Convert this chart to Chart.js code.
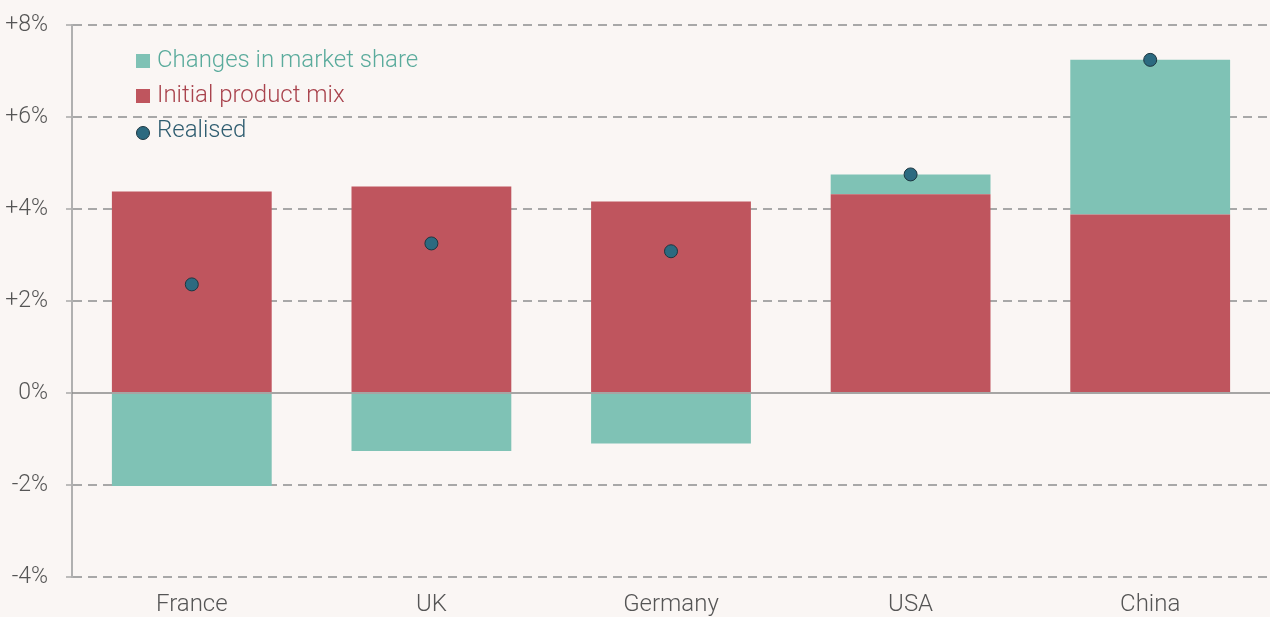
<!DOCTYPE html>
<html><head><meta charset="utf-8">
<script src="https://cdn.jsdelivr.net/npm/chart.js@4"></script>
<style>
html,body{margin:0;padding:0;background:#faf6f4;}
#wrap{position:relative;width:1270px;height:617px;}
.lg{position:absolute;left:136px;font-family:Roboto,sans-serif;font-weight:300;font-size:24px;line-height:28px;white-space:nowrap;}
.lg i{display:inline-block;width:14px;height:14px;margin-right:7px;vertical-align:-1px;}
</style></head>
<body>
<div id="wrap">
<canvas id="c" width="1270" height="617"></canvas>
<div class="lg" style="top:45px;color:#5aab9c"><i style="background:#7fc2b5"></i>Changes in market share</div>
<div class="lg" style="top:80px;color:#a9434d"><i style="background:#bf555e"></i>Initial product mix</div>
<div class="lg" style="top:115px;color:#2f5d70"><i style="background:#2c6a80;border:1px solid #1d3640;border-radius:50%;width:12px;height:12px;vertical-align:-3px"></i>Realised</div>
</div>
<script>
const categories = ["France","UK","Germany","USA","China"];
const productMix = [4.38, 4.49, 4.16, 4.32, 3.88];
const marketShare = [-2.02, -1.26, -1.10, 0.43, 3.36];
const realised = [2.36, 3.25, 3.08, 4.75, 7.24];
const yTicks = [-4,-2,0,2,4,6,8];

const zeroLine = {
  id:'zeroLine',
  afterDatasetsDraw(chart){
    const y = chart.scales.y.getPixelForValue(0);
    const {left,right} = chart.chartArea;
    const ctx = chart.ctx;
    ctx.save();
    ctx.strokeStyle = '#8a8a8a';
    ctx.lineWidth = 1.5;
    ctx.beginPath(); ctx.moveTo(left, y); ctx.lineTo(right, y); ctx.stroke();
    ctx.restore();
  }
};

new Chart(document.getElementById('c'), {
  data: {
    labels: categories,
    datasets: [
      {type:'bar', label:'Initial product mix', data: productMix, backgroundColor:'#bf555e',
       stack:'s', barPercentage:0.667, categoryPercentage:1, order:1},
      {type:'bar', label:'Changes in market share', data: marketShare, backgroundColor:'#7fc2b5',
       stack:'s', barPercentage:0.667, categoryPercentage:1, order:2},
      {type:'line', label:'Realised', data: realised, showLine:false,
       pointRadius:6.5, pointHoverRadius:6.5, pointBackgroundColor:'#2c6a80',
       pointBorderColor:'#1d3640', pointBorderWidth:1, order:0}
    ]
  },
  options: {
    responsive:false, animation:false,
    layout:{autoPadding:false, padding:{top:23, right:0, left:0, bottom:0}},
    plugins:{legend:{display:false}, tooltip:{enabled:false}},
    scales:{
      x:{stacked:true,
        grid:{display:false},
        border:{display:false},
        ticks:{color:'#555', font:{family:'Roboto', size:24, weight:300}, padding:6},
        afterFit(s){ s.height = 40; }
      },
      y:{stacked:true, min:-4, max:8,
        afterBuildTicks(s){ s.ticks = yTicks.map(v=>({value:v})); },
        grid:{color:(c)=> c.tick && c.tick.value===0 ? 'rgba(0,0,0,0)' : '#a8a8a8',
              lineWidth:2, tickLength:6, tickColor:'#a8a8a8', tickWidth:1.5},
        border:{display:true, color:'#b0b0b0', width:2, dash:[9,6]},
        ticks:{color:'#555', font:{family:'Roboto', size:23, weight:300, lineHeight:0.6}, padding:18,
          callback:(v)=> (v>0?'+':'')+v+'%'},
        afterFit(s){ s.width = 72; }
      }
    }
  },
  plugins:[zeroLine]
});
</script>
</body></html>
